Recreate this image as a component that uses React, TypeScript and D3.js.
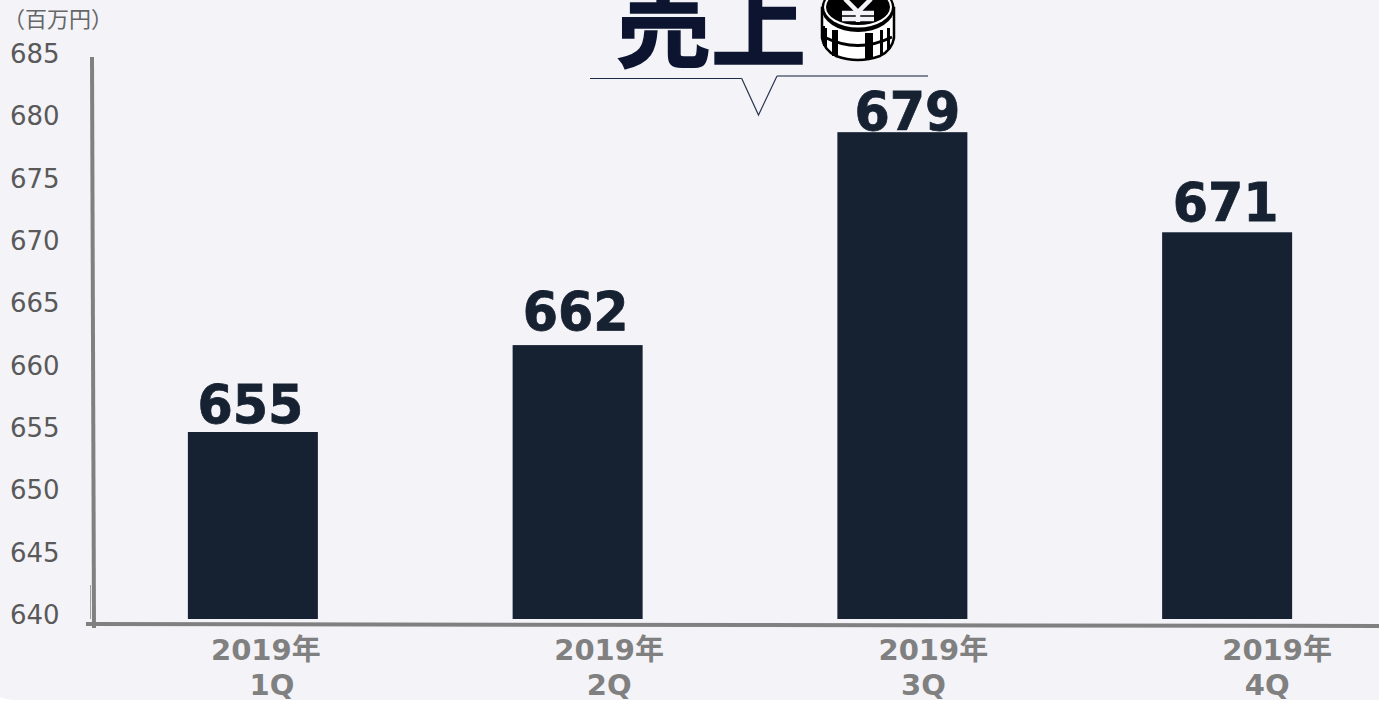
import React from "react";
import * as d3 from "d3";

const categories = ["1Q", "2Q", "3Q", "4Q"];
const yearLabel = "2019年";
const values = [655, 662, 679, 671];
const barValues = [655, 661.97, 679.05, 671.02];
const yTicks = [640, 645, 650, 655, 660, 665, 670, 675, 680, 685];
const unitLabel = "（百万円）";
const titleText = "売上";

const valueLabelDx = [-2.5, -2, 5, -1.5];
const valueLabelGap = [9, 15.5, 2, 11.5];
const yearLabelDx = [13, 31.5, 31, 50];
const quarterLabelDx = [19, 31.5, 21, 40];

const W = 1379, H = 704;
const BG = "#f4f3f8", BAR = "#162131", AXIS = "#808080", TITLE = "#0c1430";
const FONT = "'DejaVu Sans', 'Noto Sans CJK JP', sans-serif";

export default function App() {
  const y = d3.scaleLinear().domain([640, 685]).range([619, 58]);
  const x = d3.scaleBand().domain(categories).range([90.5, 1389.5]).paddingInner(0.6).paddingOuter(0.3);
  const bw = 130;
  const cx = (c: string) => (x(c) as number) + x.bandwidth() / 2;
  return (
    <svg width={W} height={H} style={{ position: "absolute", left: 0, top: 0, display: "block", background: "#fff" }}>
      <path d={`M0 0H${W}V700H14Q4 699 0 697Z`} fill={BG} />
      {yTicks.map((t) => (
        <text key={t} x={10} y={y(t) + 5} fontFamily={FONT} fontSize={26} fill="#595959">{t}</text>
      ))}
      <text x={3} y={27} fontFamily="'Noto Sans CJK JP'" fontSize={22} fill="#666">{unitLabel}</text>
      <line x1={90.5} x2={90.5} y1={585} y2={619} stroke="#a0a0a0" strokeWidth={1} />
      <line x1={92} x2={94} y1={57} y2={628} stroke={AXIS} strokeWidth={4} />
      <line x1={86} x2={W} y1={624} y2={626} stroke={AXIS} strokeWidth={4} />
      {categories.map((c, i) => {
        const v = barValues[i];
        const left = cx(c) - bw / 2;
        return (
          <g key={c}>
            <rect x={left} y={y(v)} width={bw} height={y(640) - y(v)} fill={BAR} />
            <text x={cx(c) + valueLabelDx[i]} y={y(v) - valueLabelGap[i]} textAnchor="middle" fontFamily={FONT} fontWeight={700} fontSize={54} textLength={106} lengthAdjust="spacingAndGlyphs" fill={BAR} stroke={BAR} strokeWidth={0.8}>{values[i]}</text>
            <text x={cx(c) + yearLabelDx[i]} y={660} textAnchor="middle" fontFamily={FONT} fontWeight={700} fontSize={29} fill={AXIS}>{yearLabel}</text>
            <text x={cx(c) + quarterLabelDx[i]} y={695} textAnchor="middle" fontFamily={FONT} fontWeight={700} fontSize={29} fill={AXIS}>{c}</text>
          </g>
        );
      })}
      <text x={616} y={60} fontFamily="'Noto Sans CJK JP'" fontWeight={700} fontSize={95} fill={TITLE} stroke={TITLE} strokeWidth={1.5}>{titleText}</text>
      <path d="M590 78.5H741" fill="none" stroke="#1d2a44" strokeWidth={1} />
      <path d="M741.5 78L758.5 115L777 76" fill="none" stroke="#2a3550" strokeWidth={1.2} />
      <path d="M777 76H928" fill="none" stroke="#5a6478" strokeWidth={1.5} />
      <g>
        <path d="M822 8V38Q824 50 836 56Q858 64 880 56Q892 50 894 38V8Z" fill="#fff" stroke="#000" strokeWidth={2.5} />
        <path d="M824 26V46M826 28V48" stroke="#000" strokeWidth={2} />
        <path d="M835 30V56" stroke="#000" strokeWidth={6} />
        <path d="M869 33V59" stroke="#000" strokeWidth={8} />
        <path d="M881.5 30V55M888.5 28V50" stroke="#000" strokeWidth={3} />
        <path d="M824 37Q858 54 892 37" fill="none" stroke="#000" strokeWidth={3} />
        <ellipse cx={858} cy={8} rx={36.5} ry={24} fill="#000" />
        <ellipse cx={858} cy={7} rx={34} ry={20.5} fill="#fff" />
        <ellipse cx={858} cy={7} rx={32} ry={18} fill="#000" />
        <path d="M845 -1L858 12L871 -1M842 13H874M842 19H874M858 11V22" fill="none" stroke={BG} strokeWidth={4.5} />
      </g>
    </svg>
  );
}
